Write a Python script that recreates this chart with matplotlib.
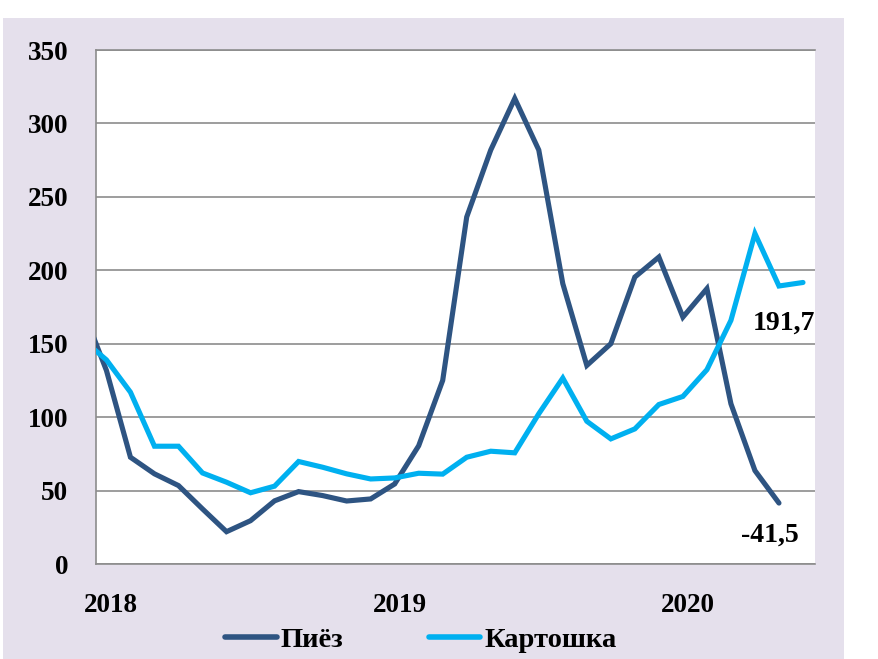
import numpy as np
import matplotlib.pyplot as plt
from matplotlib.patches import Rectangle
from matplotlib.lines import Line2D

# monthly series, Dec 2017 .. Jun 2020
months = ["2017-12", "2018-01", "2018-02", "2018-03", "2018-04", "2018-05", "2018-06",
          "2018-07", "2018-08", "2018-09", "2018-10", "2018-11", "2018-12",
          "2019-01", "2019-02", "2019-03", "2019-04", "2019-05", "2019-06",
          "2019-07", "2019-08", "2019-09", "2019-10", "2019-11", "2019-12",
          "2020-01", "2020-02", "2020-03", "2020-04", "2020-05", "2020-06"]

onion = [174, 131.8, 72.7, 61.4, 53.4, 37.5, 22, 29.5, 43, 49.3, 46.6, 42.9, 44.3,
         54.5, 80.5, 125, 236.3, 281.9, 317, 281.9, 190.9, 135.2, 150, 195.4, 209,
         168.1, 187.5, 109.1, 63.6, 41.5]
potato = [153, 139, 117, 80.2, 80.2, 62, 55.7, 48.5, 53, 69.8, 65.9, 61.4, 57.9,
          58.6, 61.8, 61.2, 72.7, 76.8, 75.7, 102.3, 126.6, 97.2, 85.2, 92, 108.6,
          114.1, 132.3, 165.9, 225, 189.3, 191.7]

year_ticks = ["2018-01", "2019-01", "2020-01"]
year_labels = ["2018", "2019", "2020"]
y_ticks = [0, 50, 100, 150, 200, 250, 300, 350]

onion_color = "#2E5482"
potato_color = "#00B0F0"
grid_color = "#8C8C8C"
font = "Liberation Serif"

W, H = 879, 659
fig = plt.figure(figsize=(W / 100, H / 100), dpi=100, facecolor="white")

# lavender panel behind the chart
fig.add_artist(Rectangle((3 / W, 0), (844 - 3) / W, (H - 18) / H,
                         transform=fig.transFigure, facecolor="#E5E0EC",
                         edgecolor="none", zorder=-5))

ax = fig.add_axes([96 / W, (H - 564) / H, (815 - 96) / W, (564 - 50) / H])
ax.set_zorder(2)
ax.set_facecolor("white")

x = np.arange(len(months))
ax.plot(x[:len(onion)], onion, color=onion_color, lw=3.7, solid_joinstyle="miter",
        solid_capstyle="round", zorder=3)
ax.plot(x, potato, color=potato_color, lw=3.7, solid_joinstyle="miter",
        solid_capstyle="round", zorder=3)

ax.set_xlim(0.566, 30.5)
ax.set_ylim(0, 350)

ax.set_yticks(y_ticks)
ax.set_yticklabels([str(v) for v in y_ticks])
# year labels sit a little right of the January point
ax.set_xticks([months.index(m) + 0.2 for m in year_ticks])
ax.set_xticklabels(year_labels)
ax.tick_params(axis="both", length=0, labelsize=19.5)
ax.tick_params(axis="y", pad=20)
ax.tick_params(axis="x", pad=21)
for lab in ax.get_xticklabels() + ax.get_yticklabels():
    lab.set_fontfamily(font)
    lab.set_fontweight("bold")

ax.yaxis.grid(True, color=grid_color, lw=1.2)
ax.set_axisbelow(True)
for side in ["top", "left", "bottom"]:
    ax.spines[side].set_color(grid_color)
    ax.spines[side].set_linewidth(1.2)
ax.spines["right"].set_visible(False)

# end-point labels
ax.annotate("191,7", xy=(x[-1], potato[-1]), xytext=(9, -29), textcoords="offset points",
            ha="right", va="center", fontsize=20, fontweight="bold", family=font,
            annotation_clip=False)
ax.annotate("-41,5", xy=(x[len(onion) - 1], onion[-1]), xytext=(14, -23),
            textcoords="offset points", ha="right", va="center", fontsize=20,
            fontweight="bold", family=font, annotation_clip=False)

handles = [Line2D([], [], color=onion_color, lw=4, solid_capstyle="round"),
           Line2D([], [], color=potato_color, lw=4, solid_capstyle="round")]
fig.legend(handles, ["Пиёз", "Картошка"], loc="center", ncol=2,
           bbox_to_anchor=(421 / W, (H - 640) / H), frameon=False,
           prop={"family": font, "weight": "bold", "size": 20.5},
           handlelength=1.8, handletextpad=0.15, columnspacing=3.0)

fig.savefig("out.png", dpi=100, facecolor="white")
